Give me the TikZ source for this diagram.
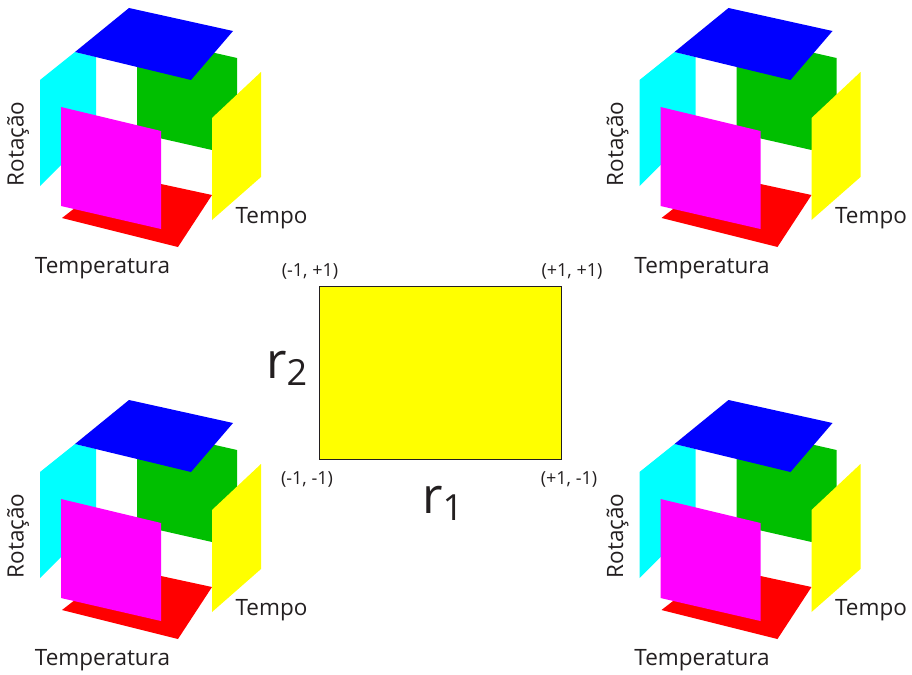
\documentclass[tikz,border=0pt]{standalone}
\usepackage{fontspec}
\setmainfont{Open Sans}
\definecolor{txt}{HTML}{231F20}
\definecolor{grn}{RGB}{0,191,0}
\definecolor{cy}{RGB}{0,255,255}
\definecolor{mg}{RGB}{255,0,255}
\definecolor{yl}{RGB}{255,255,0}
\definecolor{rd}{RGB}{255,0,0}
\definecolor{bl}{RGB}{0,0,255}
\tikzset{
  lab/.style={inner sep=0pt,text=txt,font=\fontsize{22.5}{26}\selectfont},
  corner/.style={inner sep=0pt,text=txt,font=\fontsize{18}{22}\selectfont},
  big/.style={inner sep=0pt,text=txt,anchor=base west,font=\fontsize{50}{54}\selectfont},
  cube/.pic={
    \fill[cy] (40,80)--(75,52)--(96,57)--(96,150)--(61,165)--(40,186)--cycle;
    \fill[grn] (137,60)--(215,53)--(237,58)--(237,100)--(212,150)--(137,133)--cycle;
    \fill[rd] (62,218)--(80,204)--(161,184)--(212,195)--(178,247)--cycle;
    \fill[bl] (129,8)--(233,31)--(191,80)--(75,52)--cycle;
    \fill[mg] (61,107)--(161,131)--(161,229)--(61,206)--cycle;
    \fill[yl] (212,118)--(261,72)--(261,177)--(212,220)--cycle;
    \node[lab,rotate=90,anchor=center] (-rot) at (18,144) {Rotação};
    \node[lab,anchor=center] (-tempo) at (271.5,218) {Tempo};
    \node[lab,anchor=center] (-temp) at (102.5,268) {Temperatura};
  }
}
\begin{document}
\begin{tikzpicture}[x=1pt,y=-1pt]
\useasboundingbox (0,0) rectangle (912,674);
\pic (a) at (0,0) {cube};
\pic (b) at (599.5,0) {cube};
\pic (c) at (0,392) {cube};
\pic (d) at (599.5,392) {cube};
\node[draw=txt,line width=0.6pt,fill=yl,minimum width=242pt,minimum height=173pt,inner sep=0pt,anchor=north west] (box) at (319,286) {};
\node[corner] (c1) at (310,271) {(-1, +1)};
\node[corner] (c2) at (572,271) {(+1, +1)};
\node[corner] (c3) at (307,479) {(-1, -1)};
\node[corner] (c4) at (569,479) {(+1, -1)};
\node[big] (r2) at (266,378) {r\raisebox{-7pt}{\fontsize{36}{40}\selectfont 2}};
\node[big] (r1) at (422,513) {r\raisebox{-7pt}{\fontsize{36}{40}\selectfont 1}};
\end{tikzpicture}
\end{document}
